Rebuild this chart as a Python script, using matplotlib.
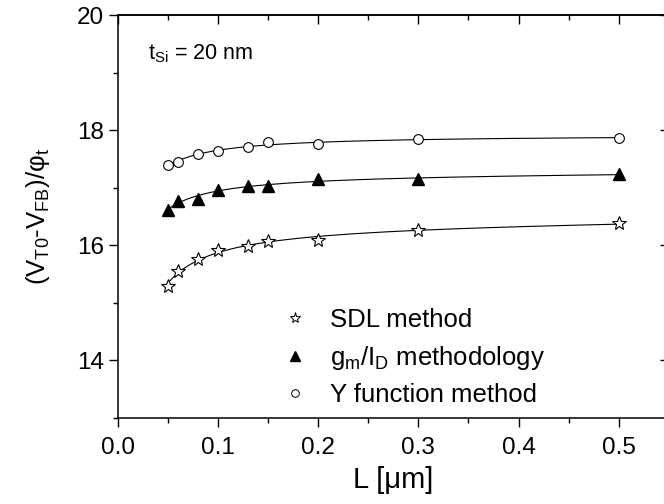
import numpy as np
import matplotlib
matplotlib.use("Agg")
import matplotlib.pyplot as plt
from matplotlib.ticker import MultipleLocator, FormatStrFormatter, NullFormatter
from matplotlib.lines import Line2D

plt.rcParams['font.family'] = ['Liberation Sans', 'DejaVu Sans']
plt.rcParams['mathtext.fontset'] = 'custom'
plt.rcParams['mathtext.rm'] = 'Liberation Sans'
plt.rcParams['mathtext.it'] = 'Liberation Sans'

L = [0.05, 0.06, 0.08, 0.10, 0.13, 0.15, 0.20, 0.30, 0.50]
sdl = [15.29, 15.55, 15.76, 15.91, 15.98, 16.07, 16.10, 16.26, 16.38]
gmid = [16.61, 16.77, 16.81, 16.96, 17.03, 17.03, 17.15, 17.15, 17.23]
yfun = [17.39, 17.44, 17.58, 17.64, 17.71, 17.79, 17.76, 17.84, 17.87]

fig = plt.figure(figsize=(6.64, 5.04), dpi=100)
ax = fig.add_axes([0.177, 0.1706, 0.8306, 0.7996])

def fit_curve(x, y):
    x = np.asarray(x); y = np.asarray(y)
    A = np.column_stack([np.ones_like(x), 1.0 / x, x])
    coef, *_ = np.linalg.lstsq(A, y, rcond=None)
    xs = np.linspace(x.min(), x.max(), 300)
    return xs, coef[0] + coef[1] / xs + coef[2] * xs

for ys in (sdl, gmid, yfun):
    xs, yf = fit_curve(L, ys)
    ax.plot(xs, yf, color='black', lw=0.8, zorder=1)

ax.plot(L, sdl, ls='none', marker='*', ms=10, mfc='white', mec='black', mew=0.8, zorder=3)
ax.plot(L, gmid, ls='none', marker='^', ms=8, mfc='black', mec='black', zorder=3)
ax.plot(L, yfun, ls='none', marker='o', ms=7, mfc='white', mec='black', mew=0.8, zorder=3)

ax.set_xlim(0, 0.55)
ax.set_ylim(13, 20)
ax.xaxis.set_major_locator(MultipleLocator(0.1))
ax.xaxis.set_minor_locator(MultipleLocator(0.05))
ax.yaxis.set_major_locator(MultipleLocator(2))
ax.yaxis.set_minor_locator(MultipleLocator(1))
ax.xaxis.set_major_formatter(FormatStrFormatter('%.1f'))
ax.tick_params(which='both', direction='out', top=False, right=False, width=1.0)
ax.tick_params(axis='x', labelsize=17.5, pad=7)
ax.tick_params(axis='y', labelsize=17.5, pad=3)
ax.tick_params(which='major', length=6.5)
ax.tick_params(which='minor', length=3.6)
for spine in ax.spines.values():
    spine.set_linewidth(1.1)

secx = ax.secondary_xaxis('top')
secx.xaxis.set_major_locator(MultipleLocator(0.1))
secx.xaxis.set_minor_locator(MultipleLocator(0.05))
secx.xaxis.set_major_formatter(NullFormatter())
secx.tick_params(which='both', direction='in', width=1.0)
secx.tick_params(which='major', length=6.5)
secx.tick_params(which='minor', length=3.6)
secx.spines['top'].set_linewidth(1.1)

secy = ax.secondary_yaxis('right')
secy.yaxis.set_major_locator(MultipleLocator(2))
secy.yaxis.set_minor_locator(MultipleLocator(1))
secy.yaxis.set_major_formatter(NullFormatter())
secy.tick_params(which='both', direction='in', width=1.0)
secy.tick_params(which='major', length=6.5)
secy.tick_params(which='minor', length=3.6)
secy.spines['right'].set_linewidth(1.1)

ax.set_xlabel('L [μm]', fontsize=21, labelpad=5)
ax.set_ylabel(r'$\mathrm{(V_{T0}}$-$\mathrm{V_{FB})/φ_t}$', fontsize=18.5, labelpad=18)

ax.text(0.055, 0.905, r'$\mathrm{t_{Si}}$ = 20 nm', transform=ax.transAxes, fontsize=15.5,
        va='center', ha='left')

handles = [
    Line2D([], [], ls='none', marker='*', ms=8, mfc='white', mec='black', mew=0.7),
    Line2D([], [], ls='none', marker='^', ms=7, mfc='black', mec='black'),
    Line2D([], [], ls='none', marker='o', ms=5.5, mfc='white', mec='black', mew=0.7),
]
labels = ['SDL method', r'$\mathrm{g_m/I_D}$ methodology', 'Y function method']
ax.legend(handles, labels, loc='lower left', bbox_to_anchor=(0.265, -0.018), frameon=False,
          fontsize=18.5, handlelength=1.0, handletextpad=0.9, labelspacing=0.45,
          borderpad=0.2)

fig.savefig('out.png', dpi=100)
